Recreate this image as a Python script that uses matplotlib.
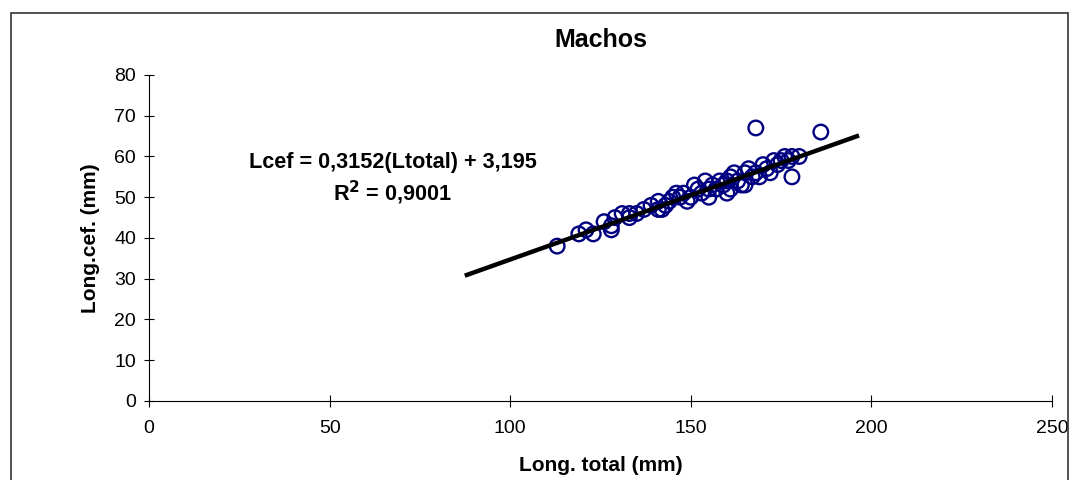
import numpy as np
import matplotlib
matplotlib.use("Agg")
import matplotlib.pyplot as plt
from matplotlib.patches import Rectangle

plt.rcParams['font.family'] = ['Liberation Sans', 'DejaVu Sans']

# data
ltotal = [113, 119, 121, 123, 126, 128, 128, 129, 131, 133, 133, 135, 137, 139,
          141, 141, 142, 143, 144, 145, 146, 147, 148, 149, 150, 151, 152, 153,
          154, 155, 155, 156, 157, 158, 159, 160, 160, 161, 161, 162, 163, 164,
          165, 165, 166, 167, 168, 168, 169, 170, 171, 172, 173, 174, 175, 176,
          177, 178, 178, 180, 186]
lcef = [38, 41, 42, 41, 44, 42, 43, 45, 46, 46, 45, 46, 47, 48,
        49, 47, 47, 48, 49, 50, 51, 50, 51, 49, 50, 53, 52, 51,
        54, 50, 52, 53, 52, 54, 53, 54, 51, 55, 52, 56, 54, 53,
        56, 53, 57, 55, 56, 67, 55, 58, 57, 56, 59, 58, 59, 60,
        59, 55, 60, 60, 66]

slope = 0.3152
intercept = 3.195
trend_x = np.array([88, 196])

fig = plt.figure(figsize=(10.73, 4.8), dpi=100)
ax = fig.add_axes([0.1389, 0.1646, 0.8415, 0.6792])

ax.plot(trend_x, slope * trend_x + intercept, color='black', lw=3.2, zorder=3)
ax.scatter(ltotal, lcef, s=110, facecolors='none', edgecolors='#000080',
           linewidths=1.7, zorder=2)

ax.set_xlim(0, 250)
ax.set_ylim(0, 80)
ax.set_xticks(range(0, 251, 50))
ax.set_yticks(range(0, 81, 10))
ax.tick_params(direction='inout', length=6.5, width=0.8, labelsize=14, pad=6)
ax.tick_params(axis='x', length=9, pad=9)
for s in ['top', 'right']:
    ax.spines[s].set_visible(False)

ax.set_xlabel('Long. total (mm)', fontsize=15, fontweight='bold', labelpad=14)
ax.set_ylabel('Long.cef. (mm)', fontsize=15, fontweight='bold', labelpad=10)
ax.set_title('Machos', fontsize=18, fontweight='bold', pad=20)

ax.text(67.5, 58.5, 'Lcef = 0,3152(Ltotal) + 3,195', fontsize=15.6,
        fontweight='bold', ha='center', va='center')
ax.text(67.5, 51, r'R$^{\mathbf{2}}$ = 0,9001', fontsize=15.6,
        fontweight='bold', ha='center', va='center')

fig.patches.append(Rectangle((11 / 1073, -0.02), 1057 / 1073, 1.02 - 13 / 480,
                             transform=fig.transFigure, fill=False,
                             edgecolor='#333333', lw=1.2))

fig.savefig('out.png', dpi=100)
